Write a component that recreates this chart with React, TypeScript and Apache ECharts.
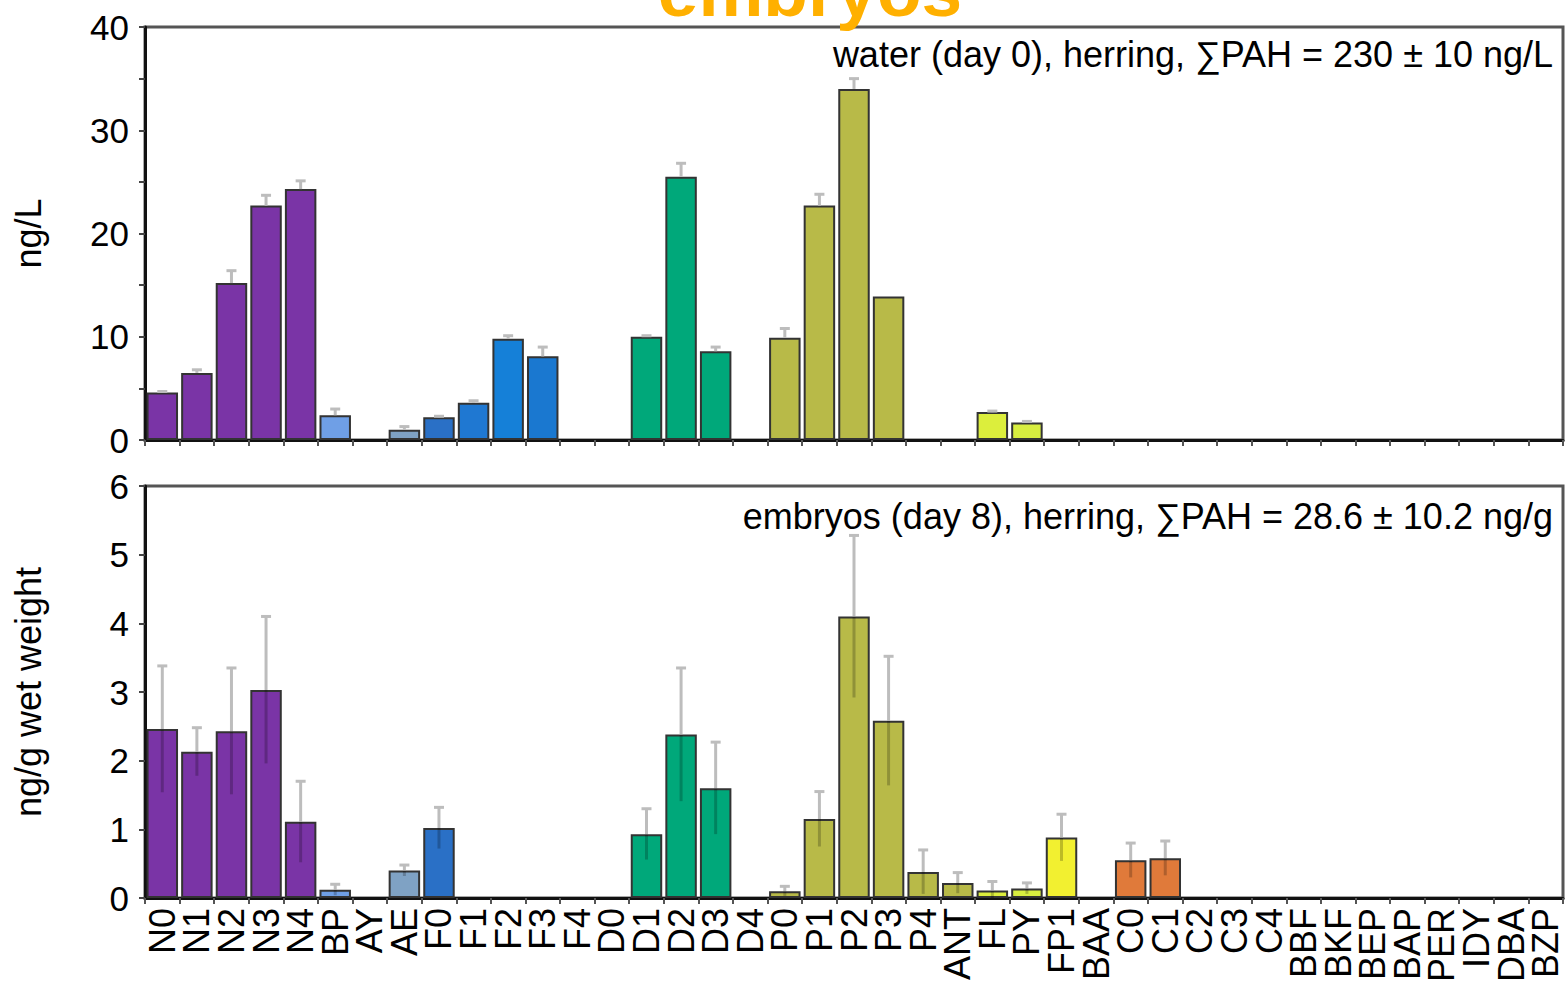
import React, { useEffect, useRef } from "react";
import * as echarts from "echarts";

const categories = ["N0","N1","N2","N3","N4","BP","AY","AE","F0","F1","F2","F3","F4","D0","D1","D2","D3","D4","P0","P1","P2","P3","P4","ANT","FL","PY","FP1","BAA","C0","C1","C2","C3","C4","BBF","BKF","BEP","BAP","PER","IDY","DBA","BZP"];

const barColors = ["#7a34a6","#7a34a6","#7a34a6","#7a34a6","#7a34a6","#6f9fe6","#7fa0b8","#7fa2c4","#2a70c6","#1f78d2","#1580d8","#1a78d0","#1a78d0","#00a87a","#00a87a","#00a87a","#00a87a","#00a87a","#b8ba48","#b8ba48","#b8ba48","#b8ba48","#b8ba48","#b8ba48","#dcee3c","#d8ee40","#f2f030","#f2f030","#e07a3a","#e07a3a","#e07a3a","#e07a3a","#e07a3a","#888888","#888888","#888888","#888888","#888888","#888888","#888888","#888888"];

const waterValues = [4.6,6.5,15.2,22.7,24.3,2.4,0,1.0,2.2,3.6,9.8,8.1,0,0,10.0,25.5,8.6,0,9.9,22.7,34.0,13.9,0,0,2.7,1.7,0,0,0,0,0,0,0,0,0,0,0,0,0,0,0];
const waterErrTop = [4.7,6.8,16.4,23.7,25.1,3.0,0,1.3,2.3,3.8,10.1,9.0,0,0,10.1,26.8,9.0,0,10.8,23.8,35.0,13.9,0,0,2.8,1.8,0,0,0,0,0,0,0,0,0,0,0,0,0,0,0];

const embryoValues = [2.46,2.13,2.43,3.03,1.11,0.12,0,0.4,1.02,0,0,0,0,0,0.93,2.38,1.6,0,0.1,1.15,4.1,2.58,0.38,0.22,0.11,0.14,0.88,0,0.55,0.58,0,0,0,0,0,0,0,0,0,0,0];
const embryoErrTop = [3.38,2.48,3.35,4.1,1.7,0.2,0,0.48,1.32,0,0,0,0,0,1.3,3.35,2.27,0,0.17,1.55,5.28,3.52,0.7,0.37,0.24,0.22,1.22,0,0.8,0.83,0,0,0,0,0,0,0,0,0,0,0];

const waterTicks = { min: 0, max: 40, interval: 10 };
const embryoTicks = { min: 0, max: 6, interval: 1 };

const FONT = "'Liberation Sans', Arial, Helvetica, sans-serif";

function errorSeries(xIdx: number, values: number[], tops: number[], inner: boolean) {
  const data = values.map((v, i) => [i, v, tops[i]]).filter((d) => d[2] > d[1] + 0.0001);
  return {
    type: "custom",
    xAxisIndex: xIdx,
    yAxisIndex: xIdx,
    z: 5,
    data,
    renderItem: (params: any, api: any) => {
      const x = api.value(0);
      const v = api.value(1);
      const t = api.value(2);
      const pv = api.coord([x, v]);
      const pt = api.coord([x, t]);
      const low = Math.max(0, v - (t - v));
      const pl = api.coord([x, low]);
      const children: any[] = [
        { type: "line", shape: { x1: pv[0], y1: pv[1], x2: pt[0], y2: pt[1] }, style: { stroke: "#bdbdbd", lineWidth: 3 } },
        { type: "line", shape: { x1: pt[0] - 5, y1: pt[1], x2: pt[0] + 5, y2: pt[1] }, style: { stroke: "#bdbdbd", lineWidth: 3 } },
      ];
      if (inner) {
        children.push({ type: "line", shape: { x1: pv[0], y1: pv[1], x2: pl[0], y2: pl[1] }, style: { stroke: "rgba(0,0,0,0.22)", lineWidth: 3 } });
      }
      return { type: "group", children };
    },
  };
}

function barSeries(idx: number, values: number[]) {
  return {
    type: "bar",
    xAxisIndex: idx,
    yAxisIndex: idx,
    barCategoryGap: "9%",
    z: 3,
    data: values.map((v, i) => ({
      value: v,
      itemStyle: { color: barColors[i], borderColor: "#333", borderWidth: v > 0 ? 2 : 0 },
    })),
  };
}

export default function App() {
  const ref = useRef<HTMLDivElement>(null);
  useEffect(() => {
    const chart = echarts.init(ref.current!, null, { renderer: "svg" });
    const axisLabelStyle = { color: "#000", fontSize: 35, fontFamily: FONT };
    const xAxisBase = {
      type: "category",
      data: categories,
      axisLine: { lineStyle: { color: "#111", width: 3 } },
      axisTick: { show: true, length: 6, lineStyle: { color: "#555", width: 2 } },
      splitLine: { show: false },
    };
    const yAxisBase = {
      type: "value",
      axisLine: { show: true, lineStyle: { color: "#111", width: 3 } },
      axisTick: { show: true, length: 6, lineStyle: { color: "#444", width: 2 } },
      splitLine: { show: false },
      axisLabel: { ...axisLabelStyle, margin: 16 },
      nameLocation: "middle",
      nameTextStyle: { ...axisLabelStyle, fontSize: 36 },
    };
    chart.setOption({
      animation: false,
      backgroundColor: "#fff",
      grid: [
        { left: 145, top: 27, width: 1418, height: 413, show: true, borderColor: "#555", borderWidth: 3 },
        { left: 145, top: 486, width: 1418, height: 412, show: true, borderColor: "#555", borderWidth: 3 },
      ],
      xAxis: [
        { ...xAxisBase, gridIndex: 0, axisLabel: { show: false } },
        { ...xAxisBase, gridIndex: 1, axisLabel: { ...axisLabelStyle, rotate: 90, interval: 0, margin: 10, fontSize: 36 } },
      ],
      yAxis: [
        { ...yAxisBase, gridIndex: 0, ...waterTicks, name: "ng/L", nameGap: 99, minorTick: { show: true, splitNumber: 2, length: 6, lineStyle: { color: "#444", width: 2 } } },
        { ...yAxisBase, gridIndex: 1, ...embryoTicks, name: "ng/g wet weight", nameGap: 99 },
      ],
      graphic: [
        { type: "text", x: 810, y: -10, z: 0, style: { text: "embryos", fill: "#FFB000", font: `bold 73px ${FONT}`, textAlign: "center", textVerticalAlign: "middle" } },
        { type: "text", x: 1553, y: 54, z: 10, style: { text: "water (day 0), herring, \u2211PAH = 230 \u00b1 10 ng/L", fill: "#000", font: `36px ${FONT}`, textAlign: "right", textVerticalAlign: "middle" } },
        { type: "text", x: 1553, y: 516, z: 10, style: { text: "embryos (day 8), herring, \u2211PAH = 28.6 \u00b1 10.2 ng/g", fill: "#000", font: `36px ${FONT}`, textAlign: "right", textVerticalAlign: "middle" } },
      ],
      series: [
        barSeries(0, waterValues),
        errorSeries(0, waterValues, waterErrTop, false),
        barSeries(1, embryoValues),
        errorSeries(1, embryoValues, embryoErrTop, true),
      ],
    });
    return () => chart.dispose();
  }, []);
  return <div ref={ref} style={{ width: 1566, height: 989, position: "absolute", left: 0, top: 0 }} />;
}
